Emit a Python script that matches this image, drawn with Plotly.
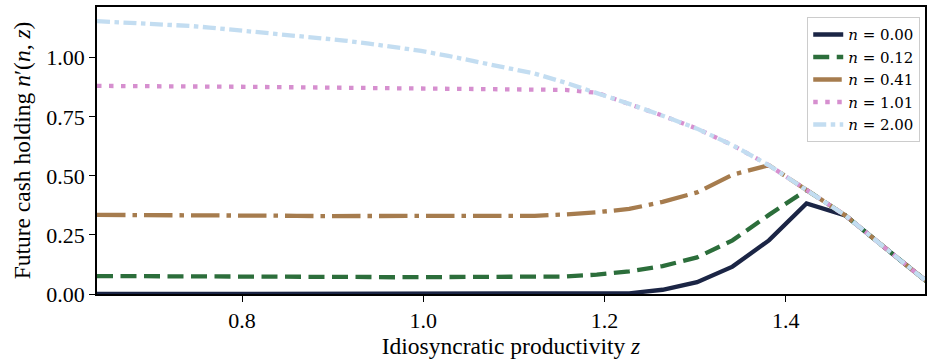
import plotly.graph_objects as go

# Idiosyncratic productivity grid
z = [0.6400, 0.6592, 0.6790, 0.6994, 0.7204, 0.7420, 0.7643, 0.7873, 0.8109, 0.8353,
     0.8603, 0.8862, 0.9128, 0.9402, 0.9685, 0.9976, 1.0275, 1.0584, 1.0902, 1.1229,
     1.1566, 1.1914, 1.2272, 1.2640, 1.3020, 1.3411, 1.3813, 1.4228, 1.4655, 1.5095,
     1.5548]

n_000 = [0.000, 0.000, 0.000, 0.000, 0.000, 0.000, 0.000, 0.000, 0.000, 0.000,
         0.000, 0.000, 0.000, 0.000, 0.000, 0.000, 0.000, 0.000, 0.000, 0.000,
         0.000, 0.000, 0.003, 0.018, 0.050, 0.116, 0.227, 0.383, 0.333, 0.195,
         0.055]
n_012 = [0.076, 0.076, 0.076, 0.075, 0.075, 0.075, 0.075, 0.074, 0.074, 0.074,
         0.073, 0.073, 0.072, 0.072, 0.071, 0.071, 0.070, 0.070, 0.070, 0.071,
         0.074, 0.082, 0.096, 0.118, 0.155, 0.227, 0.335, 0.440, 0.333, 0.195,
         0.055]
n_041 = [0.335, 0.335, 0.334, 0.334, 0.334, 0.333, 0.333, 0.332, 0.332, 0.331,
         0.331, 0.330, 0.330, 0.329, 0.329, 0.328, 0.328, 0.328, 0.329, 0.331,
         0.337, 0.346, 0.360, 0.390, 0.430, 0.505, 0.545, 0.440, 0.333, 0.195,
         0.055]
n_101 = [0.881, 0.881, 0.880, 0.880, 0.879, 0.879, 0.878, 0.878, 0.877, 0.876,
         0.875, 0.874, 0.873, 0.873, 0.872, 0.871, 0.870, 0.869, 0.868, 0.866,
         0.864, 0.852, 0.805, 0.755, 0.700, 0.630, 0.545, 0.440, 0.333, 0.195,
         0.055]
n_200 = [1.155, 1.152, 1.149, 1.145, 1.140, 1.135, 1.128, 1.120, 1.112, 1.103,
         1.094, 1.084, 1.073, 1.060, 1.045, 1.029, 1.008, 0.985, 0.960, 0.933,
         0.895, 0.852, 0.805, 0.755, 0.700, 0.630, 0.545, 0.440, 0.333, 0.195,
         0.055]

labels = ["0.00", "0.12", "0.41", "1.01", "2.00"]
series = [n_000, n_012, n_041, n_101, n_200]
colors = ["#1b2545", "#2c6e3b", "#a67c4e", "#d68fcf", "#c3ddf1"]
dashes = ["solid", "16px,7.5px", "28.5px,7px,4.5px,7px", "4.5px,7.5px", "13px,4.5px,4.5px,4.5px"]

xticks = [0.8, 1.0, 1.2, 1.4]
yticks = [0.00, 0.25, 0.50, 0.75, 1.00]

FONT = "Liberation Serif"

fig = go.Figure()
for lab, ys, col, d in zip(labels, series, colors, dashes):
    fig.add_trace(go.Scatter(
        x=z, y=ys, mode="lines", name=f"<i>n</i> = {lab}",
        line=dict(color=col, width=4.3, dash=d),
    ))

axis_common = dict(
    showgrid=False, zeroline=False, showline=True, linecolor="black", linewidth=1.6,
    mirror=True, ticks="outside", ticklen=6, tickwidth=1.3, tickcolor="black",
    tickfont=dict(family=FONT, size=22, color="black"),
)
fig.update_xaxes(
    **axis_common, range=[0.64, 1.5535], tickvals=xticks, tickformat=".1f",
    title=dict(text="Idiosyncratic productivity <i>z</i>", font=dict(family=FONT, size=23.5, color="black"), standoff=4),
)
fig.update_yaxes(
    **axis_common, range=[0, 1.215], tickvals=yticks, tickformat=".2f",
    title=dict(text="Future cash holding <i>n</i>′(<i>n</i>, <i>z</i>)", font=dict(family=FONT, size=23.5, color="black"), standoff=9),
)
fig.update_layout(
    width=928, height=362,
    margin=dict(l=97, r=1, t=7, b=68),
    paper_bgcolor="white", plot_bgcolor="white",
    font=dict(family=FONT, color="black"),
    legend=dict(
        x=0.994, y=0.965, xanchor="right", yanchor="top",
        bgcolor="rgba(255,255,255,0.85)", bordercolor="#cccccc", borderwidth=1.2,
        font=dict(family="DejaVu Serif", size=15, color="black"),
        tracegroupgap=0, itemwidth=30,
    ),
)
fig.write_html("out.html")
